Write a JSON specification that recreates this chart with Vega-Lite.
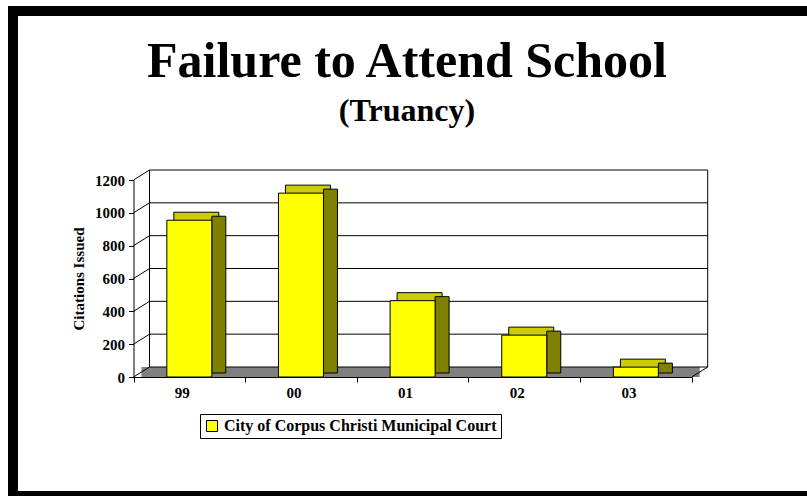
{
  "$schema": "https://vega.github.io/schema/vega-lite/v6.json",
  "width": 800,
  "height": 485,
  "autosize": {"type": "none"},
  "padding": {"left": 13, "top": 11, "right": -6, "bottom": 0},
  "background": "white",
  "config": {
    "font": "Liberation Serif",
    "view": {"stroke": "black", "strokeWidth": 10, "fill": "white"}
  },
  "title": {
    "text": "Failure to Attend School",
    "subtitle": "(Truancy)",
    "anchor": "middle",
    "frame": "group",
    "offset": -116,
    "dx": -6,
    "font": "Liberation Serif",
    "fontSize": 50,
    "fontWeight": "bold",
    "color": "black",
    "subtitleFont": "Liberation Serif",
    "subtitleFontSize": 32,
    "subtitleFontWeight": "bold",
    "subtitleColor": "black",
    "subtitlePadding": 9
  },
  "datasets": {
    "bars": [
      {"year": "99", "citations": 955, "series": "City of Corpus Christi Municipal Court"},
      {"year": "00", "citations": 1120, "series": "City of Corpus Christi Municipal Court"},
      {"year": "01", "citations": 465, "series": "City of Corpus Christi Municipal Court"},
      {"year": "02", "citations": 255, "series": "City of Corpus Christi Municipal Court"},
      {"year": "03", "citations": 60, "series": "City of Corpus Christi Municipal Court"}
    ],
    "grid": [{"v": 0}, {"v": 200}, {"v": 400}, {"v": 600}, {"v": 800}, {"v": 1000}, {"v": 1200}]
  },
  "layer": [
    {
      "data": {"values": [{}]},
      "mark": {"type": "rect", "fill": "#808080", "xOffset": 8, "x2Offset": 8, "y2Offset": -10},
      "encoding": {
        "x": {"datum": "99", "type": "nominal", "bandPosition": 0},
        "x2": {"datum": "03", "bandPosition": 1},
        "y": {"datum": 0, "type": "quantitative"},
        "y2": {"datum": 0}
      }
    },
    {
      "data": {"name": "grid"},
      "mark": {"type": "rule", "color": "black", "strokeWidth": 1, "xOffset": 16, "x2Offset": 16, "yOffset": -10},
      "encoding": {
        "x": {"datum": "99", "type": "nominal", "bandPosition": 0},
        "x2": {"datum": "03", "bandPosition": 1},
        "y": {"field": "v", "type": "quantitative"}
      }
    },
    {
      "data": {"name": "grid"},
      "mark": {"type": "rule", "color": "black", "strokeWidth": 1, "x2Offset": 16, "y2Offset": -10},
      "encoding": {
        "x": {"datum": "99", "type": "nominal", "bandPosition": 0},
        "x2": {"datum": "99", "bandPosition": 0},
        "y": {"field": "v", "type": "quantitative"},
        "y2": {"field": "v"}
      }
    },
    {
      "data": {"values": [{}]},
      "mark": {"type": "rule", "color": "black", "strokeWidth": 1, "xOffset": 16, "yOffset": -10, "y2Offset": -10},
      "encoding": {
        "x": {"datum": "99", "type": "nominal", "bandPosition": 0},
        "y": {"datum": 0, "type": "quantitative"},
        "y2": {"datum": 1200}
      }
    },
    {
      "data": {"values": [{}]},
      "mark": {"type": "rule", "color": "black", "strokeWidth": 1, "xOffset": 16, "yOffset": -10, "y2Offset": -10},
      "encoding": {
        "x": {"datum": "03", "type": "nominal", "bandPosition": 1},
        "y": {"datum": 0, "type": "quantitative"},
        "y2": {"datum": 1200}
      }
    },
    {
      "data": {"values": [{}]},
      "mark": {"type": "rule", "color": "black", "strokeWidth": 1, "x2Offset": 16, "y2Offset": -10},
      "encoding": {
        "x": {"datum": "03", "type": "nominal", "bandPosition": 1},
        "x2": {"datum": "03", "bandPosition": 1},
        "y": {"datum": 0, "type": "quantitative"},
        "y2": {"datum": 0}
      }
    },
    {
      "data": {"name": "bars"},
      "encoding": {
        "x": {
          "field": "year",
          "type": "nominal",
          "scale": {"domain": ["99", "00", "01", "02", "03"], "range": [120.5, 678.7], "paddingInner": 0, "paddingOuter": 0},
          "axis": {
            "title": null,
            "grid": false,
            "offset": -119,
            "tickBand": "extent",
            "tickSize": 5,
            "tickColor": "black",
            "domainColor": "black",
            "labelAngle": 0,
            "labelFont": "Liberation Serif",
            "labelFontSize": 15,
            "labelFontWeight": "bold",
            "labelColor": "black",
            "labelPadding": 10
          }
        },
        "y": {
          "field": "citations",
          "type": "quantitative",
          "scale": {"domain": [0, 1200], "range": [366, 169], "nice": false, "zero": true},
          "axis": {
            "title": "Citations Issued",
            "values": [0, 200, 400, 600, 800, 1000, 1200],
            "format": "d",
            "grid": false,
            "offset": -120.5,
            "domainColor": "black",
            "tickColor": "black",
            "tickSize": 5,
            "labelFont": "Liberation Serif",
            "labelFontSize": 15,
            "labelFontWeight": "bold",
            "labelColor": "black",
            "labelPadding": 4,
            "titleFont": "Liberation Serif",
            "titleFontSize": 15,
            "titleFontWeight": "bold",
            "titleColor": "black",
            "titlePadding": 8
          }
        }
      },
      "layer": [
        {
          "mark": {"type": "bar", "size": 45, "fill": "#CCCC00", "stroke": "black", "strokeWidth": 1, "xOffset": 7, "yOffset": -8, "y2Offset": -8}
        },
        {
          "mark": {"type": "bar", "size": 14, "fill": "#808000", "stroke": "black", "strokeWidth": 1, "xOffset": 29.5, "yOffset": -4, "y2Offset": 0}
        },
        {
          "mark": {"type": "bar", "size": 45, "stroke": "black", "strokeWidth": 1},
          "encoding": {
            "color": {
              "field": "series",
              "type": "nominal",
              "scale": {"range": ["#FFFF00"]},
              "legend": {
                "orient": "none",
                "legendX": 187,
                "legendY": 403,
                "title": null,
                "strokeColor": "black",
                "padding": 4,
                "symbolType": "square",
                "symbolSize": 121,
                "symbolStrokeColor": "black",
                "symbolStrokeWidth": 1,
                "labelFont": "Liberation Serif",
                "labelFontSize": 16,
                "labelFontWeight": "bold",
                "labelColor": "black",
                "labelLimit": 0
              }
            }
          }
        }
      ]
    }
  ]
}
